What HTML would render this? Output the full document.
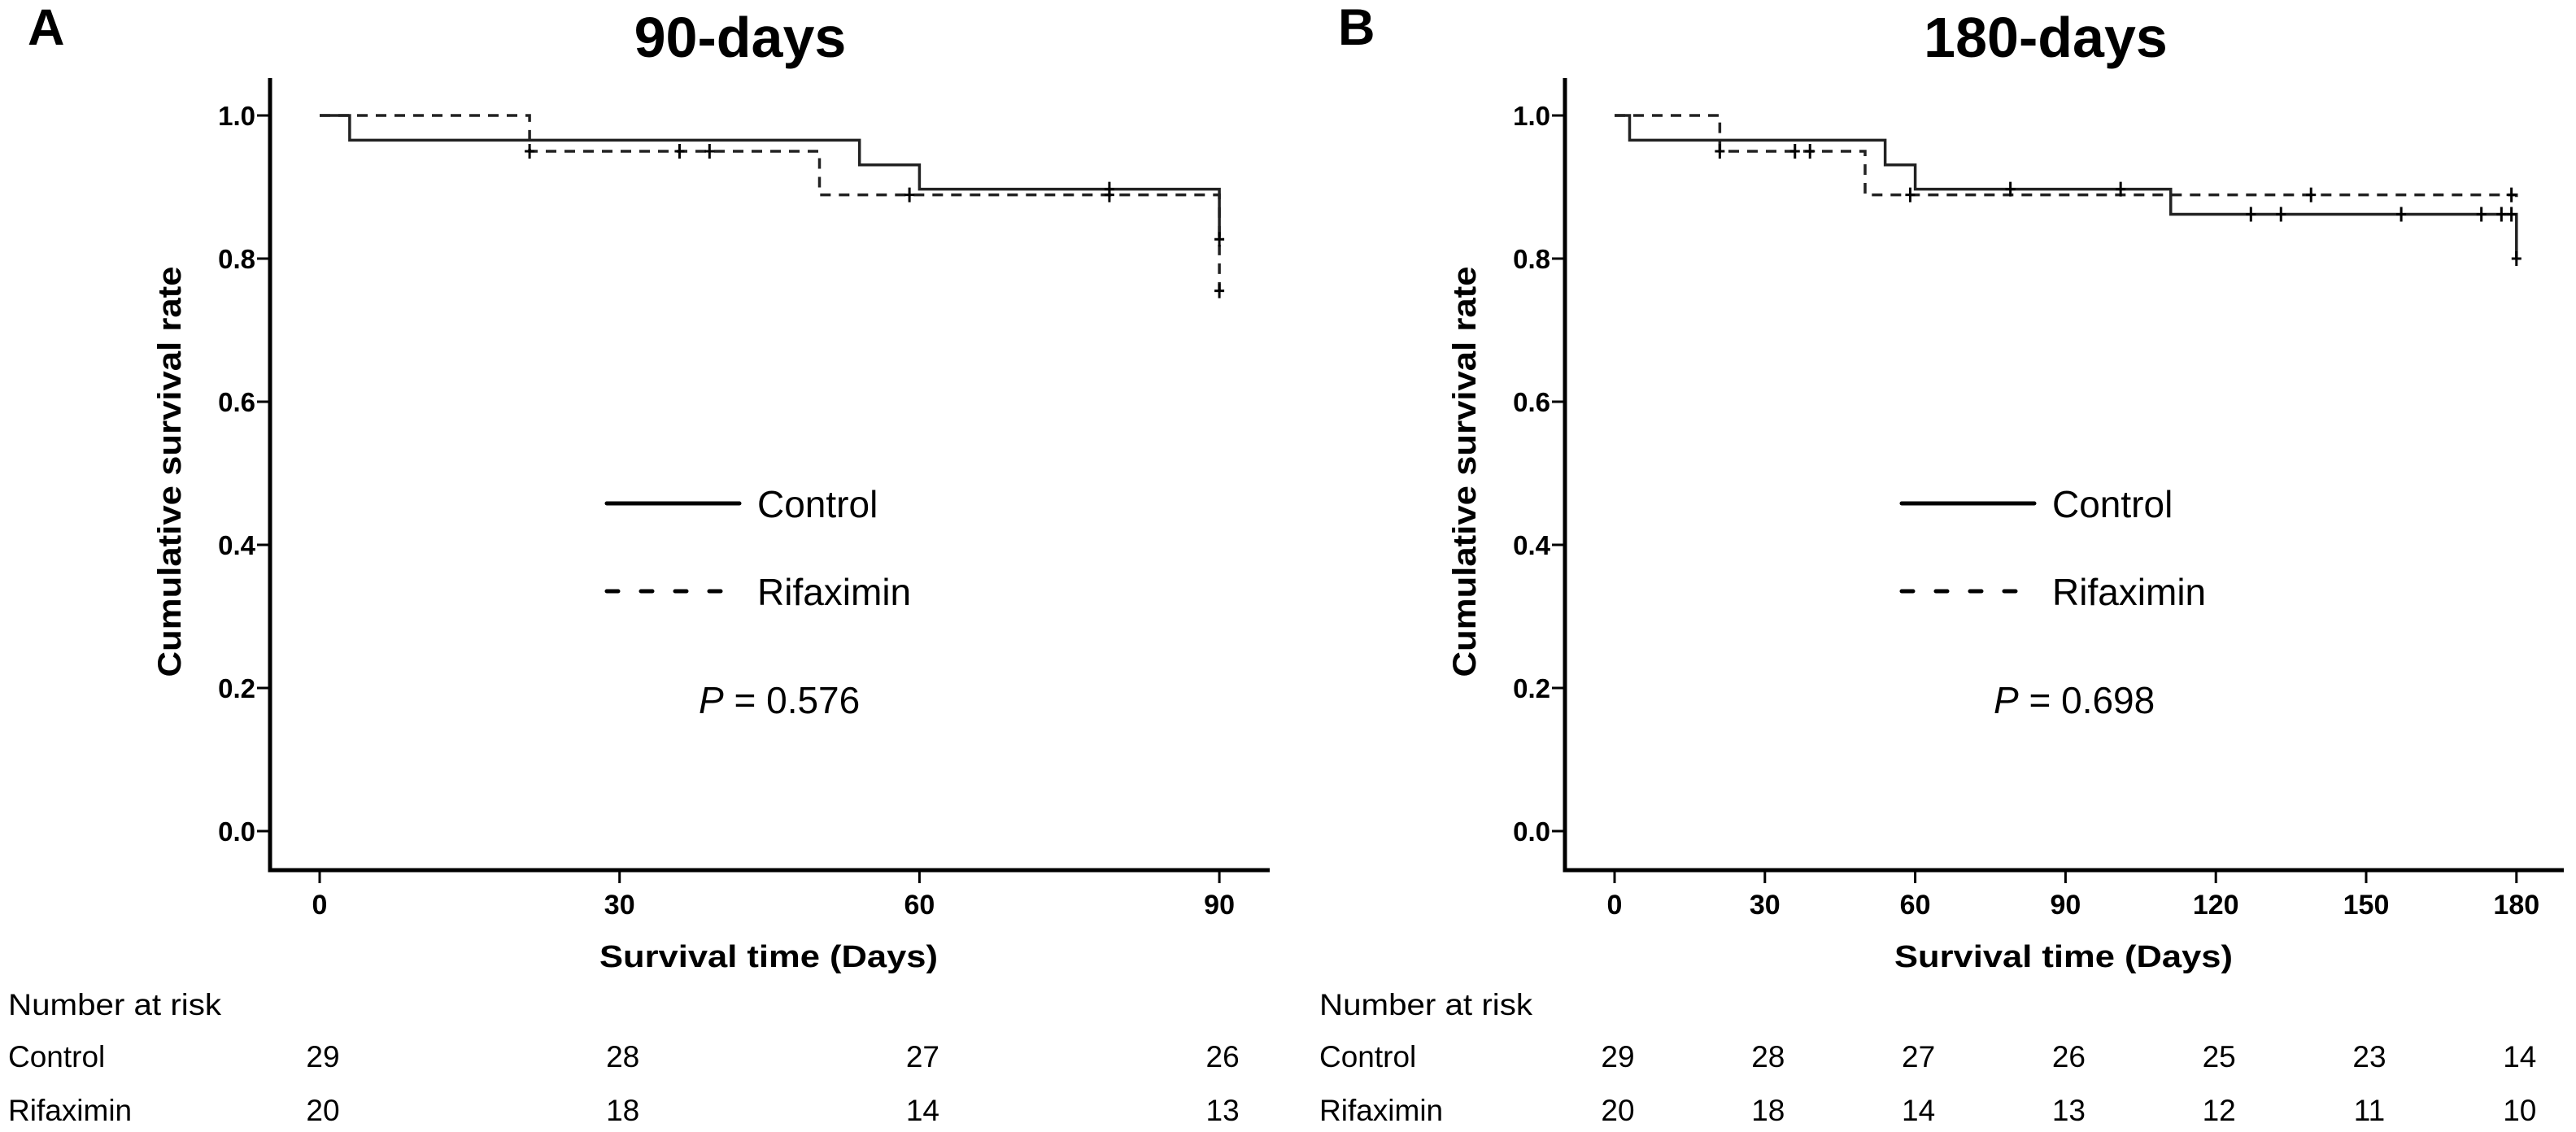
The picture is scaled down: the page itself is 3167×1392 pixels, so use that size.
<!DOCTYPE html>
<html><head><meta charset="utf-8"><style>
html,body{margin:0;padding:0;background:#fff;}
svg{display:block;font-family:"Liberation Sans",Arial,sans-serif;}
</style></head><body>
<svg id="fig" width="3167" height="1392" viewBox="0 0 3167 1392" xmlns="http://www.w3.org/2000/svg"></svg>
<script>
// ---- Panel A (90 days) data ----
const ticksA = [0, 30, 60, 90];
const riskCtrlA = [29, 28, 27, 26];
const riskRifA = [20, 18, 14, 13];
const ctrlTimesA = [0, 3, 54, 60, 90];
const ctrlSurvA = [1, 0.9655, 0.931, 0.897, 0.827];
const ctrlCensorA = [79, 90];
const rifTimesA = [0, 21, 50, 90];
const rifSurvA = [1, 0.95, 0.889, 0.755];
const rifCensorA = [21, 36, 39, 59, 79, 90];
// ---- Panel B (180 days) data ----
const ticksB = [0, 30, 60, 90, 120, 150, 180];
const riskCtrlB = [29, 28, 27, 26, 25, 23, 14];
const riskRifB = [20, 18, 14, 13, 12, 11, 10];
const ctrlTimesB = [0, 3, 54, 60, 111, 180];
const ctrlSurvB = [1, 0.9655, 0.931, 0.897, 0.862, 0.80];
const ctrlCensorB = [79, 101, 127, 133, 157, 173, 177, 179, 180];
const rifTimesB = [0, 21, 50, 180];
const rifSurvB = [1, 0.95, 0.889, 0.876];
const rifCensorB = [21, 36, 39, 59, 139, 179];
const yTicks = [0, 0.2, 0.4, 0.6, 0.8, 1.0];
const yTickLabels = ["0.0", "0.2", "0.4", "0.6", "0.8", "1.0"];
const pValues = ["0.576", "0.698"];

const NS = "http://www.w3.org/2000/svg";
const svg = document.getElementById("fig");
function mk(tag, attrs, parent, text) {
  const e = document.createElementNS(NS, tag);
  for (const k in attrs) e.setAttribute(k, attrs[k]);
  if (text !== undefined) e.textContent = text;
  (parent || svg).appendChild(e);
  return e;
}
function survAt(times, surv, t) {
  let v = surv[0];
  for (let i = 0; i < times.length; i++) if (times[i] <= t) v = surv[i];
  return v;
}
function drawPanel(o) {
  const g = mk("g", {});
  
  
  const xs = d => o.x0 + d * o.ppd;
  const ys = v => 1022 - v * 880;
  const maxT = o.ticks[o.ticks.length - 1];

  const lab = mk("text", {x: o.labX, y: 55, "font-size": 63, "font-weight": "bold"}, g, o.letter);
  
  
  const tt = mk("text", {x: o.titleX, y: 70, "font-size": 70, "font-weight": "bold", "text-anchor": "middle"}, g, o.title);
  
  

  const ax = mk("path", {d: `M${o.axisX},96 V1070 H${o.axisEnd}`, stroke: "#000", "stroke-width": 5, fill: "none"}, g);
  
  

  yTicks.forEach((v, i) => {
    mk("line", {x1: o.axisX - 16, x2: o.axisX, y1: ys(v), y2: ys(v), stroke: "#000", "stroke-width": 3}, g);
    const t = mk("text", {x: o.axisX - 18, y: ys(v) + 12, "font-size": 33, "font-weight": "bold", "text-anchor": "end"}, g, yTickLabels[i]);
    
    
  });
  o.ticks.forEach((d, i) => {
    mk("line", {x1: xs(d), x2: xs(d), y1: 1070, y2: 1086, stroke: "#000", "stroke-width": 3}, g);
    const t = mk("text", {x: xs(d), y: 1124, "font-size": 34, "font-weight": "bold", "text-anchor": "middle"}, g, String(d));
    
    
    const a = mk("text", {x: xs(d) + 4, y: 1312, "font-size": 37, "text-anchor": "middle"}, g, String(o.riskC[i]));
    
    
    const b = mk("text", {x: xs(d) + 4, y: 1378, "font-size": 37, "text-anchor": "middle"}, g, String(o.riskR[i]));
    
    
  });
  const xt = mk("text", {x: o.xTitleX, y: 1189, "font-size": 38, "font-weight": "bold", "text-anchor": "middle", textLength: 416, lengthAdjust: "spacingAndGlyphs"}, g, "Survival time (Days)");
  
  
  const yt = mk("text", {x: 0, y: 0, "font-size": 40, "font-weight": "bold", "text-anchor": "middle", textLength: 505, lengthAdjust: "spacingAndGlyphs", transform: `translate(${o.axisX - 98},580) rotate(-90)`}, g, "Cumulative survival rate");
  yt.setAttribute('transform', `translate(${o.axisX - 110},580) rotate(-90)`);
  
  

  const nr = mk("text", {x: o.riskX, y: 1248, "font-size": 37, textLength: 262, lengthAdjust: "spacingAndGlyphs"}, g, "Number at risk");
  
  
  const rc = mk("text", {x: o.riskX, y: 1312, "font-size": 37}, g, "Control");
  
  
  const rr = mk("text", {x: o.riskX, y: 1378, "font-size": 37}, g, "Rifaximin");
  
  

  function stepPath(times, surv) {
    let d = `M${xs(times[0])},${ys(surv[0])}`;
    for (let i = 1; i < times.length; i++) d += ` H${xs(times[i])} V${ys(surv[i])}`;
    d += ` H${xs(maxT)}`;
    return d;
  }
  function censors(times, surv, cens, name) {
    cens.forEach(c => {
      const cx = xs(c), cy = ys(survAt(times, surv, c));
      const p = mk("path", {d: `M${cx},${cy - 9} V${cy + 9} M${cx - 6},${cy} H${cx + 6}`, stroke: "#000", "stroke-width": 3}, g);
      
      
    });
  }
  const rp = mk("path", {d: stepPath(o.rT, o.rS), stroke: "#222", "stroke-width": 3.5, fill: "none", "stroke-dasharray": "13,10"}, g);
  
  
  const cp = mk("path", {d: stepPath(o.cT, o.cS), stroke: "#222", "stroke-width": 3.5, fill: "none"}, g);
  
  
  censors(o.rT, o.rS, o.rC, 'rifaximin-censor-mark');
  censors(o.cT, o.cS, o.cC, 'control-censor-mark');

  const lx = o.legX;
  const l1 = mk("line", {x1: lx, x2: lx + 163, y1: 619, y2: 619, stroke: "#000", "stroke-width": 5, "stroke-linecap": "round"}, g);
  
  
  const t1 = mk("text", {x: lx + 185, y: 636, "font-size": 46}, g, "Control");
  
  
  const l2 = mk("line", {x1: lx, x2: lx + 153, y1: 727, y2: 727, stroke: "#000", "stroke-width": 5, "stroke-dasharray": "14,28", "stroke-linecap": "round"}, g);
  
  
  const t2 = mk("text", {x: lx + 185, y: 744, "font-size": 46}, g, "Rifaximin");
  
  
  const pt = mk("text", {x: lx + 113, y: 877, "font-size": 46}, g);
  
  
  mk("tspan", {"font-style": "italic"}, pt, "P");
  mk("tspan", {}, pt, " = " + o.p);
}
drawPanel({key: "a", letter: "A", title: "90-days", labX: 34, titleX: 910, axisX: 332, x0: 393, ppd: 12.29, axisEnd: 1561,
  ticks: ticksA, riskC: riskCtrlA, riskR: riskRifA, cT: ctrlTimesA, cS: ctrlSurvA, cC: ctrlCensorA,
  rT: rifTimesA, rS: rifSurvA, rC: rifCensorA, xTitleX: 945, riskX: 10, legX: 746, p: pValues[0]});
drawPanel({key: "b", letter: "B", title: "180-days", labX: 1645, titleX: 2515, axisX: 1924, x0: 1985, ppd: 6.16, axisEnd: 3152,
  ticks: ticksB, riskC: riskCtrlB, riskR: riskRifB, cT: ctrlTimesB, cS: ctrlSurvB, cC: ctrlCensorB,
  rT: rifTimesB, rS: rifSurvB, rC: rifCensorB, xTitleX: 2537, riskX: 1622, legX: 2338, p: pValues[1]});
</script>
</body></html>
